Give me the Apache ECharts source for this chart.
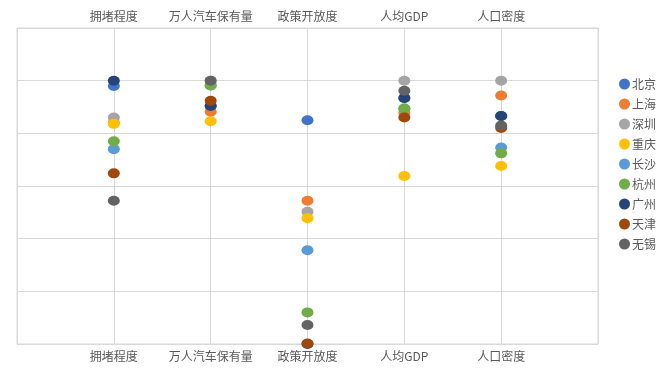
<!DOCTYPE html>
<html>
<head>
<meta charset="utf-8">
<script src="https://cdn.jsdelivr.net/npm/echarts@6/dist/echarts.min.js"></script>
<style>
    html, body { margin: 0; padding: 0; background: #fff; }
    #chart { width: 670px; height: 376px; }
</style>
</head>
<body>
<div id="chart"></div>
<script>
    // 指标（x轴位置1..5）
    var categories = ['拥堵程度', '万人汽车保有量', '政策开放度', '人均GDP', '人口密度'];
    var cities = ['北京', '上海', '深圳', '重庆', '长沙', '杭州', '广州', '天津', '无锡'];
    var colors = ['#4472C4', '#ED7D31', '#A5A5A5', '#FFC000', '#5B9BD5', '#70AD47', '#264478', '#9E480E', '#636363'];

    // 各城市在五个指标上的得分
    var beijing   = [4.90, 4.52, 4.25, 4.67, 4.33];
    var shanghai  = [4.20, 4.41, 2.72, 4.39, 4.72];
    var shenzhen  = [4.30, 5.00, 2.51, 5.00, 5.00];
    var chongqing = [4.18, 4.23, 2.39, 3.19, 3.38];
    var changsha  = [3.70, 4.91, 1.78, 4.47, 3.73];
    var hangzhou  = [3.85, 4.91, 0.60, 4.47, 3.62];
    var guangzhou = [5.00, 4.52, 0.00, 4.67, 4.33];
    var tianjin   = [3.24, 4.62, 0.01, 4.30, 4.10];
    var wuxi      = [2.72, 5.00, 0.36, 4.81, 4.15];

    var values = [beijing, shanghai, shenzhen, chongqing, changsha, hangzhou, guangzhou, tianjin, wuxi];

    var myChart = echarts.init(document.getElementById('chart'));

    var labelFmt = function (v) {
        return categories[v - 1] || '';
    };

    var series = cities.map(function (name, i) {
        return {
            name: name,
            type: 'scatter',
            symbol: 'circle',
            symbolSize: [12, 10],
            itemStyle: { color: colors[i], opacity: 1 },
            data: values[i].map(function (v, j) { return [j + 1, v]; })
        };
    });

    var option = {
        backgroundColor: '#ffffff',
        animation: false,
        textStyle: { fontFamily: '"Noto Sans CJK SC", sans-serif' },
        legend: {
            orient: 'vertical',
            left: 614,
            top: 73,
            itemGap: 8,
            itemWidth: 11,
            itemHeight: 11,
            icon: 'circle',
            textStyle: { color: '#595959', fontSize: 12, padding: [0, 0, 0, -3] },
            data: cities
        },
        grid: {
            left: 17,
            right: 72,
            top: 28,
            bottom: 32,
            show: true,
            borderColor: '#d9d9d9',
            borderWidth: 1
        },
        xAxis: [{
            type: 'value',
            position: 'bottom',
            min: 0,
            max: 6,
            interval: 1,
            axisLine: { show: false },
            axisTick: { show: false },
            splitLine: { show: true, lineStyle: { color: '#d9d9d9' } },
            axisLabel: { formatter: labelFmt, color: '#595959', fontSize: 12, margin: 6 }
        }, {
            type: 'value',
            position: 'top',
            min: 0,
            max: 6,
            interval: 1,
            axisLine: { show: false },
            axisTick: { show: false },
            splitLine: { show: false },
            axisLabel: { formatter: labelFmt, color: '#595959', fontSize: 12, margin: 6 }
        }],
        yAxis: {
            type: 'value',
            min: 0,
            max: 6,
            interval: 1,
            axisLine: { show: false },
            axisTick: { show: false },
            axisLabel: { show: false },
            splitLine: { show: true, lineStyle: { color: '#d9d9d9' } }
        },
        series: series
    };

    myChart.setOption(option);
</script>
</body>
</html>
